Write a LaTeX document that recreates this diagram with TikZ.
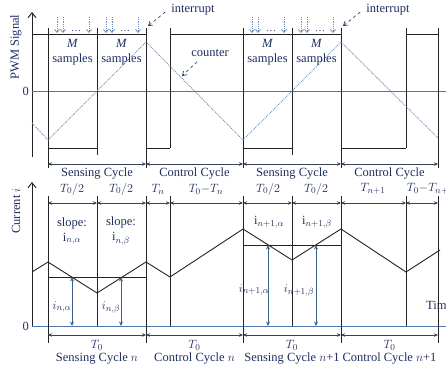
\documentclass[tikz,border=0pt]{standalone}
\usepackage{fontspec}
\setmainfont{Liberation Serif}
\usetikzlibrary{arrows.meta}
\definecolor{txtblue}{RGB}{30,45,95}
\definecolor{zeroblue}{RGB}{75,120,175}
\definecolor{cntblue}{RGB}{110,140,185}
\definecolor{linegray}{RGB}{35,35,35}
\definecolor{dimgray}{RGB}{55,65,90}
\tikzset{
  lbl/.style={text=txtblue, inner sep=0pt, font=\fontsize{12.5}{15}\selectfont},
  wave/.style={draw=linegray, line width=0.9pt},
  guide/.style={draw=linegray, line width=0.6pt},
  axis/.style={draw=linegray, line width=0.9pt, -{Straight Barb[length=5pt,width=8pt]}},
  zeroline/.style={draw=zeroblue, line width=0.8pt},
  counter/.style={draw=cntblue, densely dotted, line width=0.9pt},
  sample/.style={draw=cntblue, densely dotted, line width=0.8pt, -{Straight Barb[length=3pt,width=5pt]}},
  pointer/.style={draw=txtblue, dashed, line width=0.6pt, -{Straight Barb[length=4pt,width=5pt]}},
  dim/.style={draw=dimgray, line width=0.7pt, {Stealth[length=4pt,width=3.5pt]}-{Stealth[length=4pt,width=3.5pt]}},
  curarrow/.style={draw=zeroblue!80!black, line width=0.9pt, {Stealth[length=4.5pt,width=4pt]}-{Stealth[length=4.5pt,width=4pt]}}
}
\begin{document}
\begin{tikzpicture}[x=1pt, y=-1pt]
      \useasboundingbox (0,0) rectangle (446,372);
      % AXES
      \draw[axis] (32,157) -- (32,12);
      \draw[axis] (32,326) -- (32,182);
      \draw[zeroline] (32,91) -- (446,91);
      \draw[zeroline] (32,326) -- (446,326);
      \node[lbl, anchor=east] (zeroTop) at (29,91) {0};
      \node[lbl, anchor=east] (zeroBot) at (29,326) {0};
      \node[lbl, rotate=90] (pwmLabel) at (16,47) {PWM Signal};
      \node[lbl, rotate=90] (curLabel) at (16,211) {Current $i$};
      \node[lbl, anchor=west] (timeLabel) at (426,305) {Time};
      % PWM SIGNAL
      \draw[wave] (32,34) -- (146,34) (170,34) -- (341,34) (406,34) -- (438,34);
      \draw[wave] (48,148) -- (97,148) (146,148) -- (170,148) (243,148) -- (292,148) (341,148) -- (406,148);
      \foreach \x/\b in {48/168, 97/155, 146/168, 170/148, 243/168, 292/155, 341/168, 406/148, 438/168}
        \draw[wave] (\x,28) -- (\x,\b);
      % COUNTER
      \draw[counter] (32,123) -- (48,140) -- (146,42) -- (243,140) -- (341,42) -- (438,138);
      % SAMPLES
      \foreach \s [count=\k] in {48,97,243,292} {
        \draw[sample] (\s+9,17) -- (\s+9,33);
        \draw[sample] (\s+15,17) -- (\s+15,33);
        \draw[sample] (\s+41,17) -- (\s+41,33);
        \node[lbl, font=\fontsize{10}{12}\selectfont] (dots\k) at (\s+28,31) {\dots};
        \node[lbl, align=center] (samp\k) at (\s+24.5,52) {\textit{M}\\samples};
      }
      % INTERRUPT AND COUNTER LABELS
      \node[lbl] (intA) at (193,10) {interrupt};
      \node[lbl] (intB) at (388,10) {interrupt};
      \node[lbl] (cntLabel) at (210,53) {counter};
      \coordinate (peakA) at (148,26);
      \coordinate (peakB) at (343,26);
      \coordinate (cntPt) at (182,76);
      \draw[pointer] (intA.west) ++(-6,2) -- (peakA);
      \draw[pointer] (intB.west) ++(-6,2) -- (peakB);
      \draw[pointer] (cntLabel.south west) ++(6,5) -- (cntPt);
      % CYCLES
      \foreach \a/\b/\t [count=\k] in {48/146/Sensing Cycle, 146/243/Control Cycle, 243/341/Sensing Cycle, 341/438/Control Cycle} {
        \draw[dim] (\a,164) -- (\b,164);
        \node[lbl] (cyc\k) at ({(\a+\b)/2},174) {\t};
      }
      % CURRENT: GUIDES
      \foreach \x/\b in {48/343, 97/326, 146/343, 170/326, 243/343, 292/326, 341/343, 406/326, 438/343}
        \draw[guide] (\x,196) -- (\x,\b);
      \draw[guide] (48,277) -- (146,277);
      \draw[guide] (243,245) -- (341,245);
      % CURRENT: INTERVALS
      \foreach \a/\b/\c/\t [count=\k] in {48/97/72/{$T_0/2$}, 97/146/121/{$T_0/2$}, 146/170/158/{$T_n$}, 170/243/206/{$T_0{-}T_n$},
                                       243/292/268/{$T_0/2$}, 292/341/316/{$T_0/2$}, 341/406/373/{$T_{n+1}$}, 406/438/430/{$T_0{-}T_{n+1}$}} {
        \draw[dim] (\a,203) -- (\b,203);
        \node[lbl] (int\k) at (\c,189) {\t};
      }
      % CURRENT WAVEFORM
      \draw[wave] (32,272) -- (48,262) -- (97,293) -- (146,262) -- (170,277) -- (243,229)
                  -- (292,260) -- (341,229) -- (406,272) -- (440,250);
      \draw[curarrow] (72,277) -- (72,326);
      \draw[curarrow] (121,277) -- (121,326);
      \draw[curarrow] (268,245) -- (268,326);
      \draw[curarrow] (316,245) -- (316,326);
      \node[lbl] (iNa) at (62,307) {$i_{n,\alpha}$};
      \node[lbl] (iNb) at (111,307) {$i_{n,\beta}$};
      \node[lbl] (iMa) at (254,290) {$i_{n+1,\alpha}$};
      \node[lbl] (iMb) at (299,290) {$i_{n+1,\beta}$};
      \node[lbl, align=center] (slopeA) at (72,231) {slope:\\$\mathrm{i}_{n,\alpha}$};
      \node[lbl, align=center] (slopeB) at (121,231) {slope:\\$\mathrm{i}_{n,\beta}$};
      \node[lbl] (sMa) at (269,222) {$\mathrm{i}_{n+1,\alpha}$};
      \node[lbl] (sMb) at (317,222) {$\mathrm{i}_{n+1,\beta}$};
      % PERIODS
      \foreach \a/\b/\t [count=\k] in {48/146/{Sensing Cycle $n$}, 146/243/{Control Cycle $n$}, 243/341/{Sensing Cycle $n$+1}, 341/438/{Control Cycle $n$+1}} {
        \draw[dim] (\a,335) -- (\b,335);
        \node[lbl] (per\k) at ({(\a+\b)/2},345) {$T_0$};
        \node[lbl] (name\k) at ({(\a+\b)/2},359) {\t};
      }
    \end{tikzpicture}
\end{document}
